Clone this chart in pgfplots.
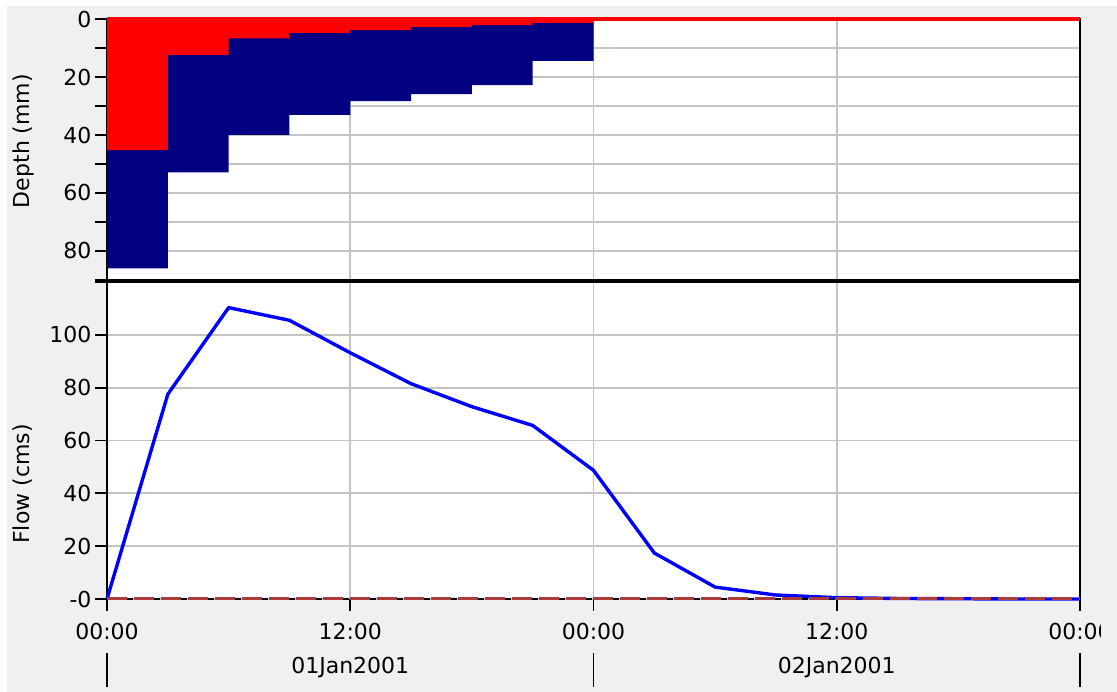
\documentclass[border=0pt]{standalone}
\usepackage{fontspec}
\setmainfont{DejaVu Sans}
\usepackage{pgfplots}
\usepackage{pgfplotstable}
\pgfplotsset{compat=1.18}

\definecolor{panelgray}{RGB}{240,240,240}
\definecolor{gridgray}{RGB}{196,196,196}
\definecolor{excessblue}{RGB}{0,0,128}
\definecolor{lossred}{RGB}{255,0,0}
\definecolor{flowblue}{RGB}{0,0,255}
\definecolor{obsred}{RGB}{170,60,60}

% total precipitation depth per 3-hour interval (mm)
\pgfplotstableread{
t  depth
0  86.0
3  52.9
6  40.0
9  33.1
12 28.3
15 25.9
18 22.8
21 14.4
24 14.4
}\precip

% loss depth per 3-hour interval (mm)
\pgfplotstableread{
t  loss
0  45.2
3  12.4
6  6.7
9  4.8
12 3.8
15 2.8
18 2.1
21 1.3
24 1.3
}\loss

% outflow hydrograph (cms)
\pgfplotstableread{
t  flow
0  0
3  77.5
6  110.3
9  105.5
12 93.2
15 81.5
18 72.8
21 65.7
24 48.7
27 17.4
30 4.5
33 1.5
36 0.5
39 0.2
42 0.1
45 0
48 0
}\flow

\newcommand{\lbl}{\fontsize{22bp}{25bp}\selectfont}

\pgfplotsset{
  hydro/.style={
    scale only axis, width=973bp, xmin=0, xmax=48,
    clip=false,
    tick align=outside,
    major tick length=12bp, minor tick length=12bp,
    tick style={black, line width=1.8bp},
    xtick pos=left, ytick pos=left,
    grid style={draw=gridgray, line width=1.7bp},
    minor grid style={draw=gridgray, line width=1.7bp},
    tick label style={font=\lbl, text=black},
    /pgf/number format/assume math mode=true,
    axis line style={line width=2bp},
    axis background/.style={fill=white},
  }
}

\begin{document}
\begin{tikzpicture}[x=1bp, y=1bp]
\useasboundingbox (0,0) rectangle (1117,692);
\fill[white] (0,0) rectangle (1117,692);
\fill[panelgray] (7,0) rectangle (1117,686);

% precipitation panel
\begin{axis}[hydro, at={(107bp,412bp)}, anchor=south west, height=261bp,
  ymin=0, ymax=90, y dir=reverse,
  ytick={0,20,...,80}, yticklabels={0,20,40,60,80},
  minor ytick={10,30,...,90},
  xtick={0,12,24,36,48}, xticklabels={}, xtick style={draw=none},
  grid=both]
  \addplot[const plot mark left, fill=excessblue, draw=none] table[x=t, y=depth] {\precip} \closedcycle;
  \addplot[const plot mark left, fill=lossred, draw=none] table[x=t, y=loss] {\loss} \closedcycle;
  \addplot[lossred, line width=3.2bp] coordinates {(0,0) (48,0)};
\end{axis}

% flow panel
\begin{axis}[hydro, at={(107bp,93bp)}, anchor=south west, height=317bp,
  ymin=0, ymax=120,
  ytick={0,20,...,120}, yticklabels={-0,20,40,60,80,100,{}},
  xtick={0,12,24,36,48}, xticklabels={00:00,12:00,00:00,12:00,{}},
  xticklabel style={yshift=-9bp},
  xmajorgrids, ymajorgrids, axis line style={draw=none}]
  \draw[black, line width=2bp] (rel axis cs:0,0) -- (rel axis cs:0,1) -- (rel axis cs:1,1) -- (rel axis cs:1,0);
  \draw[black, line width=2.4bp, dash pattern=on 6bp off 21bp, dash phase=-20bp] (rel axis cs:0,0) -- (rel axis cs:1,0);
  \addplot[flowblue, line width=3.4bp, line join=round] table[x=t, y=flow] {\flow};
  \addplot[obsred, line width=3bp, dash pattern=on 20bp off 7bp] coordinates {(0,0) (48,0)};
  % date row
  \foreach \h in {0,24,48} {
    \edef\tmp{\noexpand\draw[black, line width=1.8bp] (axis cs:\h,0) ++(0,-54bp) -- ++(0,-34bp);}\tmp
  }
  \node[font=\lbl, text=black] at (axis cs:12,0) [yshift=-69bp] {01Jan2001};
  \node[font=\lbl, text=black] at (axis cs:36,0) [yshift=-69bp] {02Jan2001};
\end{axis}

% last time label, cut at the panel edge
\begin{scope}
  \clip (1000,0) rectangle (1100,692);
  \node[font=\lbl, text=black] at (1080,61) {00:00};
\end{scope}

\node[font=\lbl, text=black, rotate=90] at (23,551) {Depth (mm)};
\node[font=\lbl, text=black, rotate=90] at (23,208) {Flow (cms)};
\end{tikzpicture}
\end{document}
